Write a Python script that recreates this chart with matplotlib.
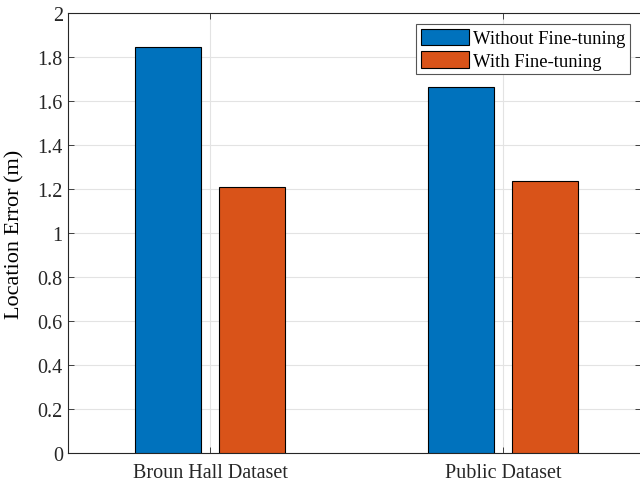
import matplotlib.pyplot as plt
import numpy as np

plt.rcParams.update({
    "font.family": "Liberation Serif",
    "font.size": 14.5,
})

datasets = ['Broun Hall Dataset', 'Public Dataset']
without_ft = [1.845, 1.667]
with_ft = [1.212, 1.236]
series_names = ['Without Fine-tuning', 'With Fine-tuning']

blue = '#0072BD'
orange = '#D95319'

fig = plt.figure(figsize=(6.4, 4.89), dpi=100)
ax = fig.add_axes([67.7/640, 1 - 454.3/489, (641.5-67.7)/640, (454.3-14.3)/489])

x = np.arange(1, len(datasets) + 1)
w = 0.225
off = 0.143
ax.bar(x - off, without_ft, w, color=blue, edgecolor='black', linewidth=0.8,
       label=series_names[0], zorder=3)
ax.bar(x + off, with_ft, w, color=orange, edgecolor='black', linewidth=0.8,
       label=series_names[1], zorder=3)

ax.set_xlim(0.514, 2.472)
ax.set_ylim(0, 2)
ax.set_yticks(np.arange(0, 2.01, 0.2))
ax.set_yticklabels(['0', '0.2', '0.4', '0.6', '0.8', '1', '1.2', '1.4', '1.6', '1.8', '2'])
ax.set_xticks(x)
ax.set_xticklabels(datasets)
ax.set_ylabel('Location Error (m)', fontsize=16, labelpad=9)

ax.grid(True, color='#e3e3e3', linewidth=0.8, zorder=0)
ax.set_axisbelow(True)
ax.tick_params(direction='in', length=4, width=0.6, top=True, right=True,
               colors='#262626', labelcolor='#262626')
ax.tick_params(axis='x', pad=7)
for s in ax.spines.values():
    s.set_color('#262626')
    s.set_linewidth(0.8)

leg = ax.legend(loc='upper right', bbox_to_anchor=((630-67.7)/(641.5-67.7), (454.3-25)/440),
                fontsize=13.4, fancybox=False, framealpha=1, edgecolor='#555555',
                handlelength=2.6, handleheight=1.0, borderpad=0.25, labelspacing=0.2,
                handletextpad=0.2, borderaxespad=0)
leg.get_frame().set_linewidth(0.8)

fig.savefig('out.png', dpi=100)
